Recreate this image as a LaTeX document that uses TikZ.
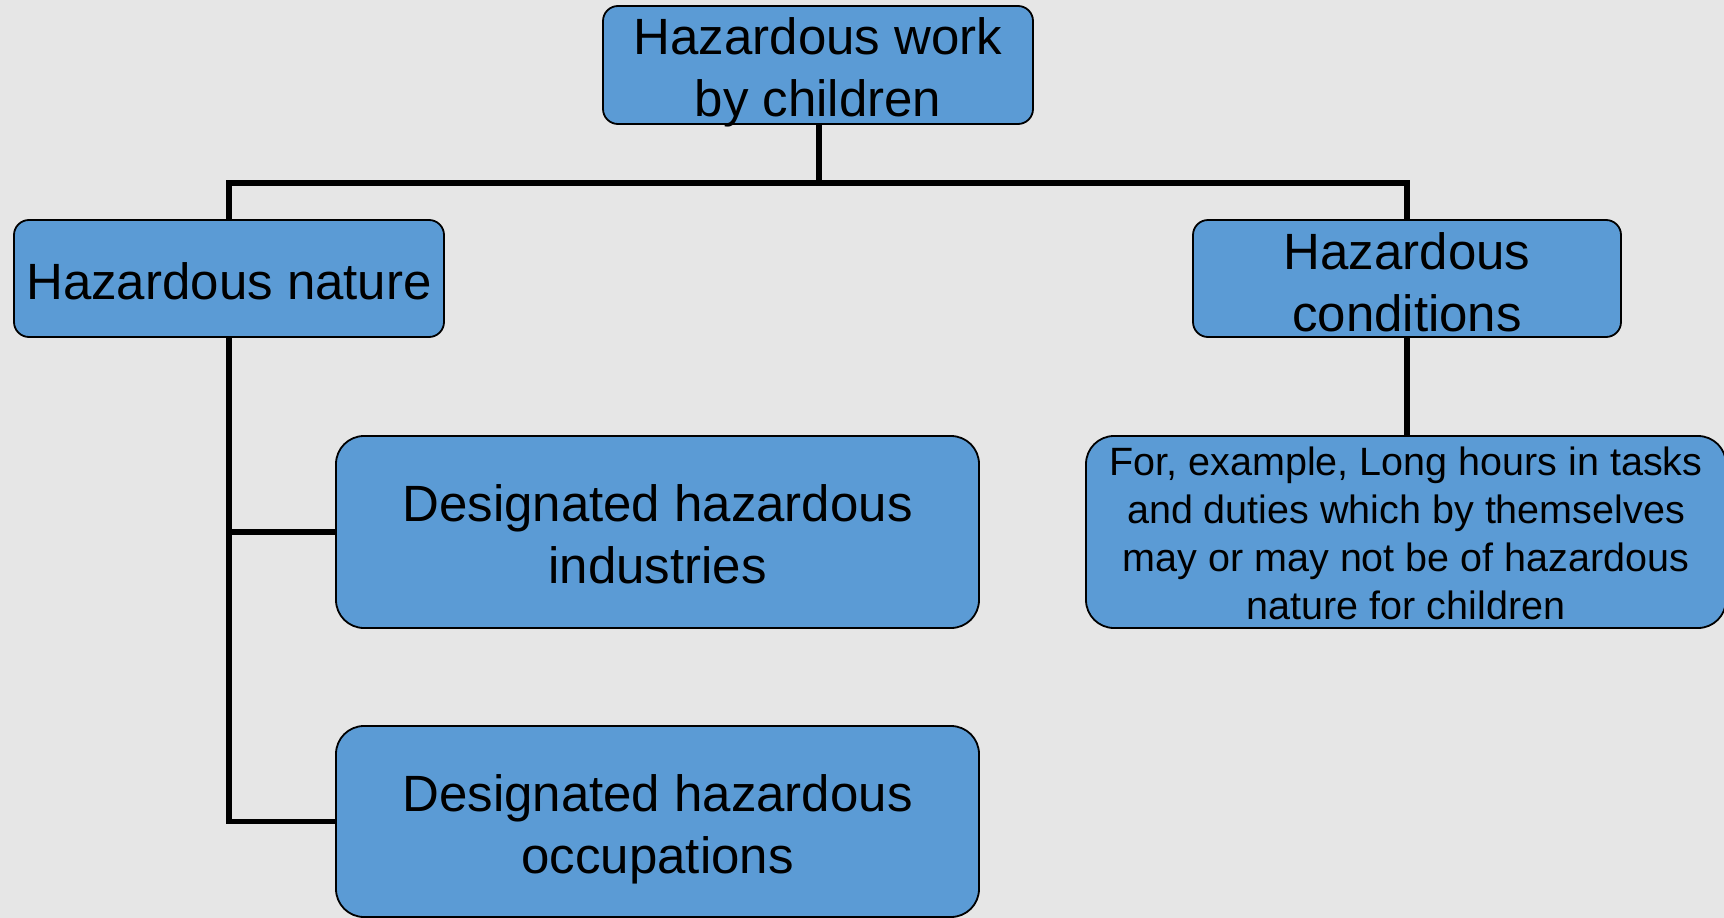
\documentclass[tikz,border=0pt]{standalone}
\usepackage{fontspec}
\setmainfont{Liberation Sans}
\definecolor{bggray}{RGB}{230,230,230}
\definecolor{boxblue}{RGB}{91,155,213}
\tikzset{
  box/.style={draw=black, line width=1.8pt, fill=boxblue, align=center,
    inner sep=0pt, font=\fontsize{51}{62}\selectfont,
    text height=103.5pt, text depth=0pt},
  bigbox/.style={box, rounded corners=15pt},
  widebox/.style={box, rounded corners=28pt},
  link/.style={draw=black, line width=5.5pt}
}
\begin{document}
\begin{tikzpicture}[x=1pt, y=-1pt]
  \useasboundingbox (0,0) rectangle (1724,918);
  \fill[bggray] (0,0) rectangle (1724,918);

  % top level
  \node[bigbox, minimum width=430pt, minimum height=118pt] (top) at (818,65)
    {Hazardous work\\by children};

  % second level
  \node[bigbox, minimum width=430pt, minimum height=117pt, text height=41.5pt]
    (nature) at (229,278.5) {Hazardous nature};
  \node[bigbox, minimum width=428pt, minimum height=117pt, text height=105pt]
    (cond) at (1407,278.5) {Hazardous\\conditions};

  % third level
  \node[widebox, minimum width=643pt, minimum height=192pt] (ind) at (657.5,532)
    {Designated hazardous\\industries};
  \node[widebox, minimum width=643pt, minimum height=191pt] (occ) at (657.5,821.5)
    {Designated hazardous\\occupations};
  \node[widebox, font=\fontsize{39.5}{48}\selectfont, text height=175pt,
    minimum width=640pt, minimum height=192pt] (ex) at (1406,532)
    {For, example, Long hours in tasks\\and duties which by themselves\\may or may not be of hazardous\\nature for children};

  % connectors
  \coordinate (bus) at (819,183);
  \draw[link] (top.south -| bus) -- (bus);
  \draw[link] (nature.north) |- (bus) -| (cond.north);
  \draw[link] (cond.south) -- (cond.south |- ex.north);
  \draw[link] (nature.south) |- (occ.west);
  \draw[link] (nature.south |- ind.west) -- (ind.west);
\end{tikzpicture}
\end{document}
